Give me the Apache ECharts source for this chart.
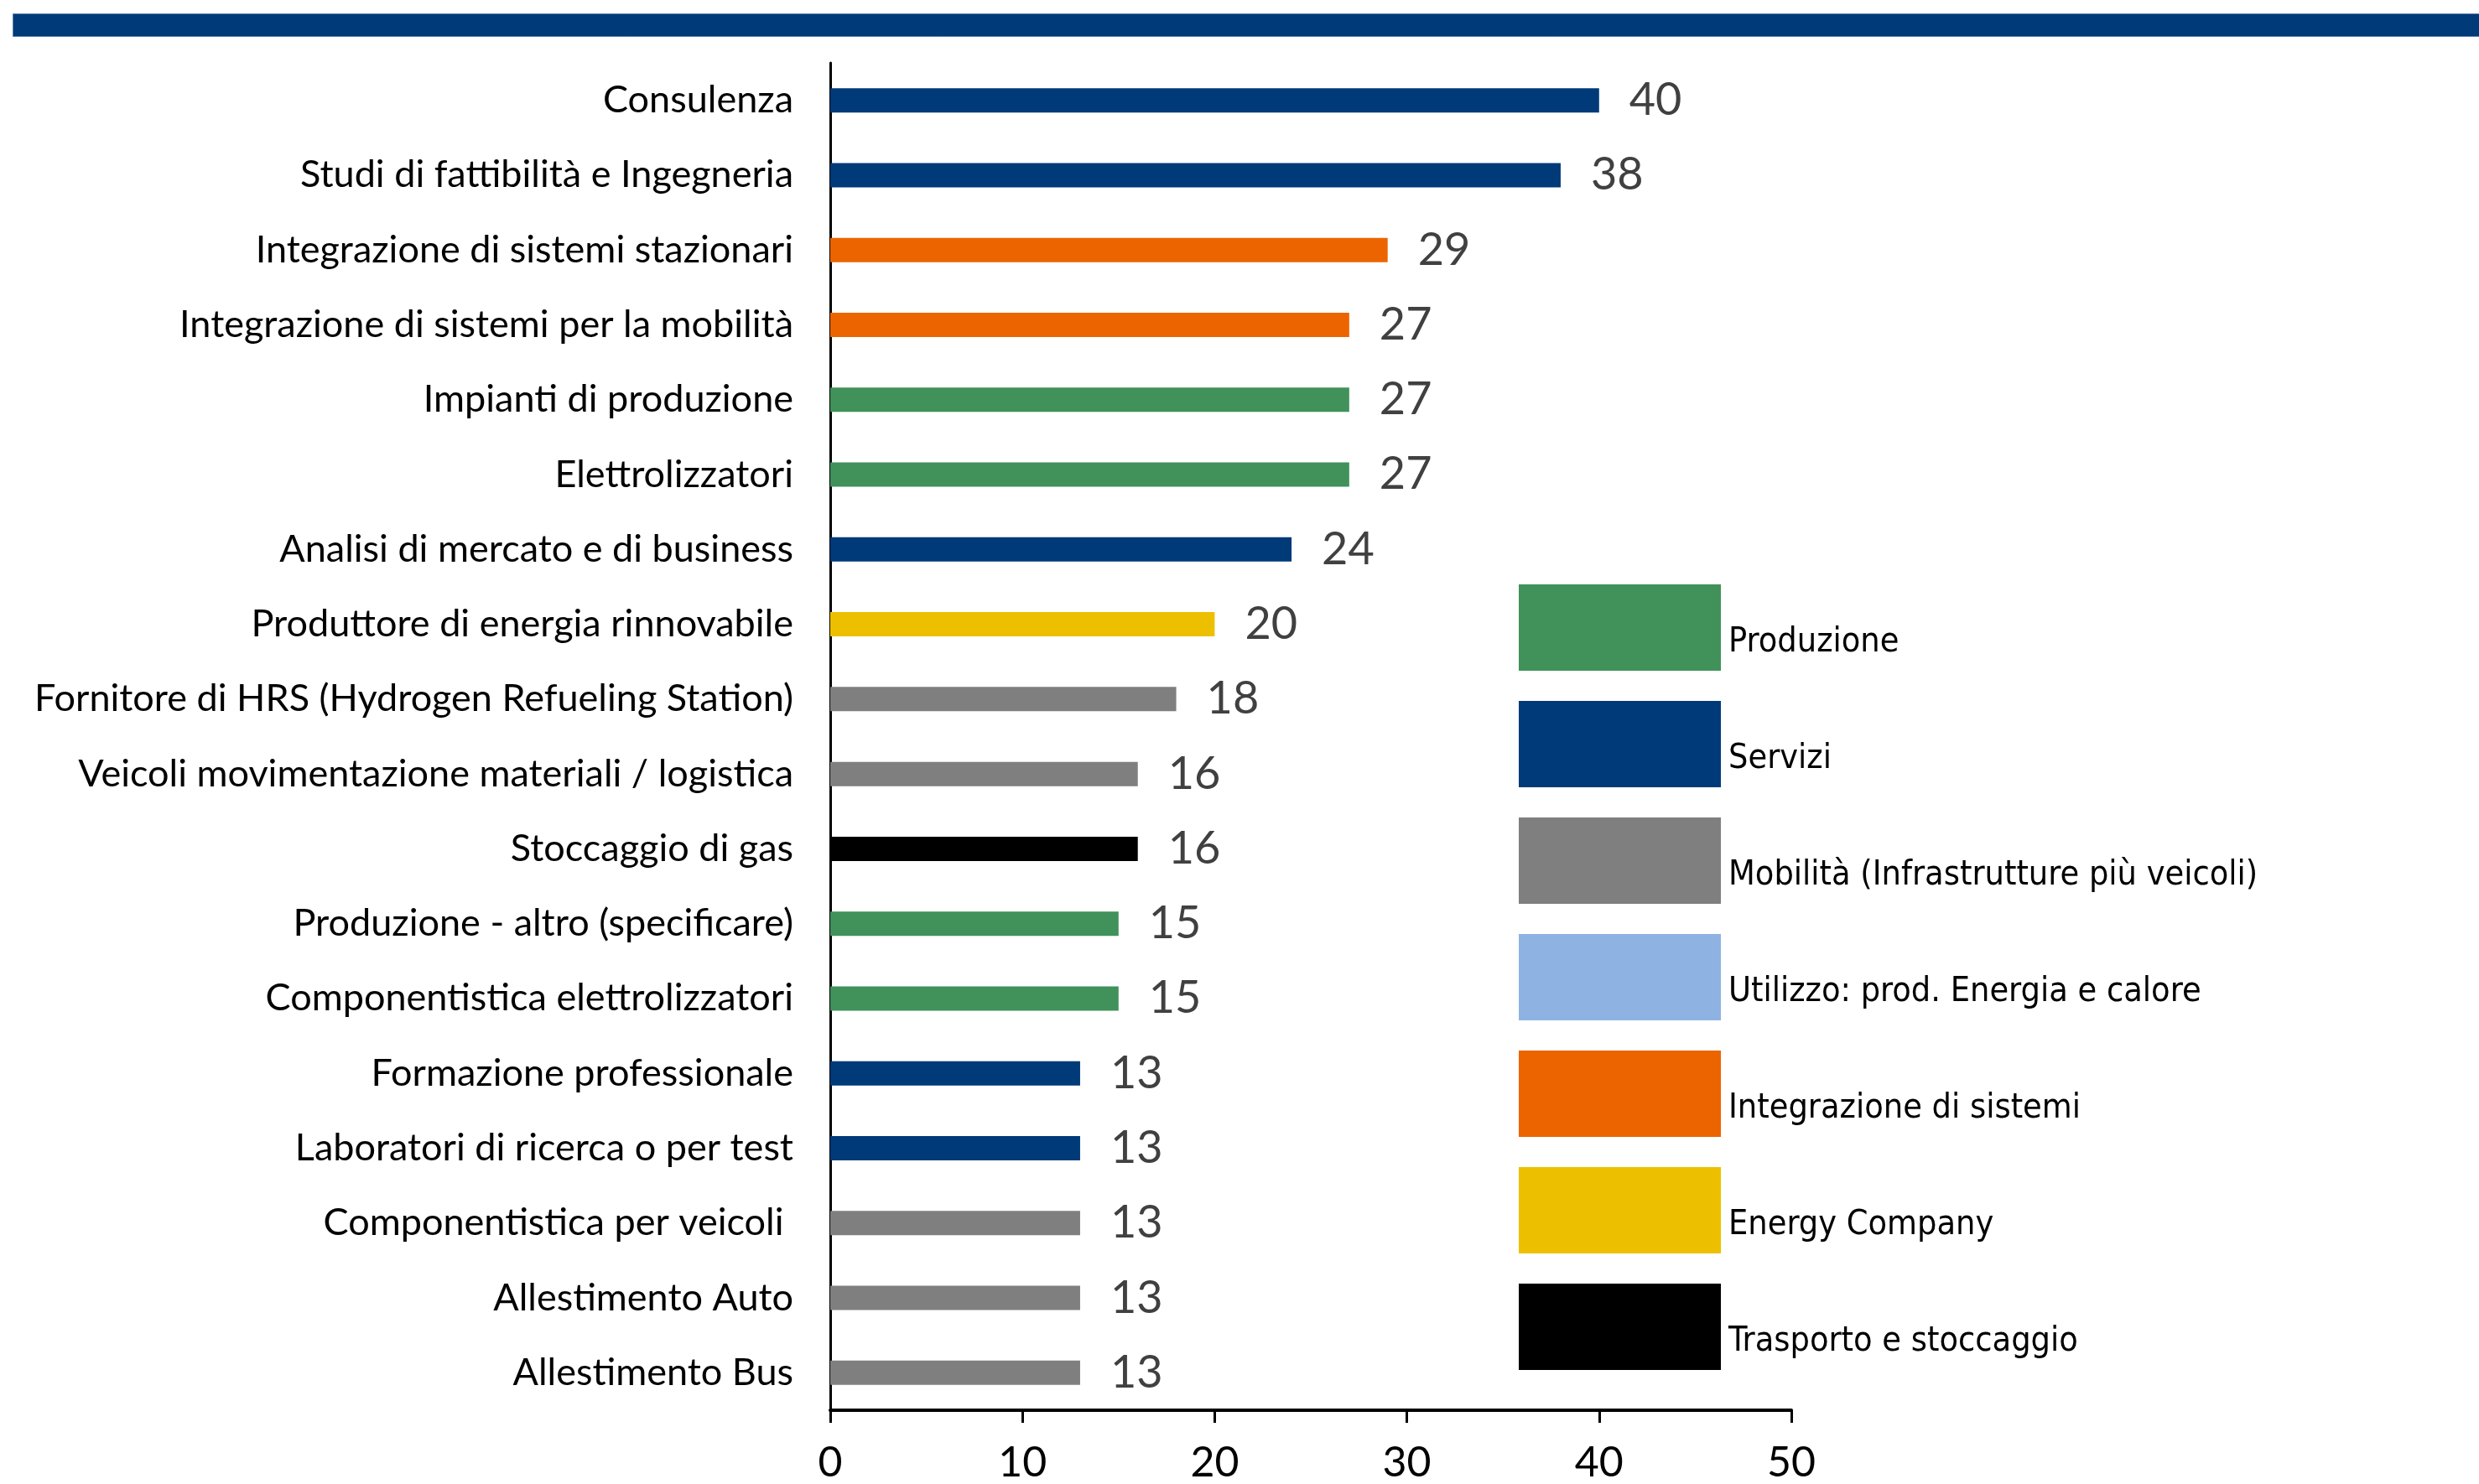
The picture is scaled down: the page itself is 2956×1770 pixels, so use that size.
<!DOCTYPE html>
<html>
<head>
<meta charset="utf-8">
<title>Attività delle imprese della filiera</title>
<script src="https://cdn.jsdelivr.net/npm/echarts@6/dist/echarts.min.js"></script>
<style>
  html, body { margin: 0; padding: 0; background: #ffffff; }
  #chart { width: 2956px; height: 1770px; }
</style>
</head>
<body>
<div id="chart"></div>
<script>
// Activity categories, top to bottom
const categories = [
  'Consulenza',
  'Studi di fattibilità e Ingegneria',
  'Integrazione di sistemi stazionari',
  'Integrazione di sistemi per la mobilità',
  'Impianti di produzione',
  'Elettrolizzatori',
  'Analisi di mercato e di business',
  'Produttore di energia rinnovabile',
  'Fornitore di HRS (Hydrogen Refueling Station)',
  'Veicoli movimentazione materiali / logistica',
  'Stoccaggio di gas',
  'Produzione - altro (specificare)',
  'Componentistica elettrolizzatori',
  'Formazione professionale',
  'Laboratori di ricerca o per test',
  'Componentistica per veicoli ',
  'Allestimento Auto',
  'Allestimento Bus'
];

// Number of companies for each activity
const values = [40, 38, 29, 27, 27, 27, 24, 20, 18, 16, 16, 15, 15, 13, 13, 13, 13, 13];

// Macro area each activity belongs to
const areaOf = [
  'Servizi', 'Servizi', 'Integrazione di sistemi', 'Integrazione di sistemi',
  'Produzione', 'Produzione', 'Servizi', 'Energy Company',
  'Mobilità (Infrastrutture più veicoli)', 'Mobilità (Infrastrutture più veicoli)',
  'Trasporto e stoccaggio', 'Produzione', 'Produzione', 'Servizi', 'Servizi',
  'Mobilità (Infrastrutture più veicoli)', 'Mobilità (Infrastrutture più veicoli)',
  'Mobilità (Infrastrutture più veicoli)'
];

// Macro areas in legend order and their colours
const areas = [
  'Produzione',
  'Servizi',
  'Mobilità (Infrastrutture più veicoli)',
  'Utilizzo: prod. Energia e calore',
  'Integrazione di sistemi',
  'Energy Company',
  'Trasporto e stoccaggio'
];
const areaColors = ['#41915A', '#003A78', '#7F7F7F', '#8EB3E2', '#EC6400', '#ECC000', '#000000'];

// X axis tick values
const xTicks = [0, 10, 20, 30, 40, 50];

const labelFont = 'Lato, "Open Sans", sans-serif';

const series = areas.map((area, i) => ({
  name: area,
  type: 'bar',
  barWidth: 29,
  barGap: '-100%',
  itemStyle: { color: areaColors[i] },
  label: {
    show: true,
    position: 'right',
    distance: 36,
    color: '#404040',
    fontFamily: labelFont,
    fontSize: 54
  },
  data: values.map((v, k) => (areaOf[k] === area ? v : null))
}));

const chart = echarts.init(document.getElementById('chart'), null, { renderer: 'canvas' });

chart.setOption({
  animation: false,
  backgroundColor: '#ffffff',
  graphic: [
    {
      type: 'rect',
      left: 15,
      top: 16,
      shape: { width: 2941, height: 27 },
      style: { fill: '#003A78', stroke: '#5A7FAF', lineWidth: 1 }
    }
  ],
  grid: {
    left: 990,
    top: 75,
    width: 1146,
    height: 1608,
    containLabel: false
  },
  legend: {
    data: areas,
    orient: 'vertical',
    left: 1806,
    top: 692,
    itemWidth: 241,
    itemHeight: 103,
    itemGap: 36,
    icon: 'rect',
    selectedMode: false,
    // legend names sit in the lower half of each swatch
    formatter: (name) => '{t|' + name + '}',
    textStyle: {
      rich: {
        t: {
          fontFamily: '"Liberation Sans Narrow", "DejaVu Sans Condensed", "Liberation Sans", sans-serif',
          fontSize: 41,
          color: '#000000',
          padding: [36, 0, 0, 4]
        }
      }
    }
  },
  xAxis: {
    type: 'value',
    min: xTicks[0],
    max: xTicks[xTicks.length - 1],
    interval: xTicks[1] - xTicks[0],
    splitLine: { show: false },
    axisLine: { show: true, lineStyle: { color: '#000000', width: 4 } },
    axisTick: { show: true, length: 15, lineStyle: { color: '#000000', width: 3 } },
    axisLabel: {
      color: '#000000',
      fontFamily: labelFont,
      fontSize: 50,
      margin: 38
    }
  },
  yAxis: {
    type: 'category',
    inverse: true,
    data: categories,
    axisLine: { show: true, lineStyle: { color: '#000000', width: 3 } },
    axisTick: { show: false },
    axisLabel: {
      color: '#000000',
      fontFamily: labelFont,
      fontSize: 45,
      margin: 44
    }
  },
  series: series
});
</script>
</body>
</html>
